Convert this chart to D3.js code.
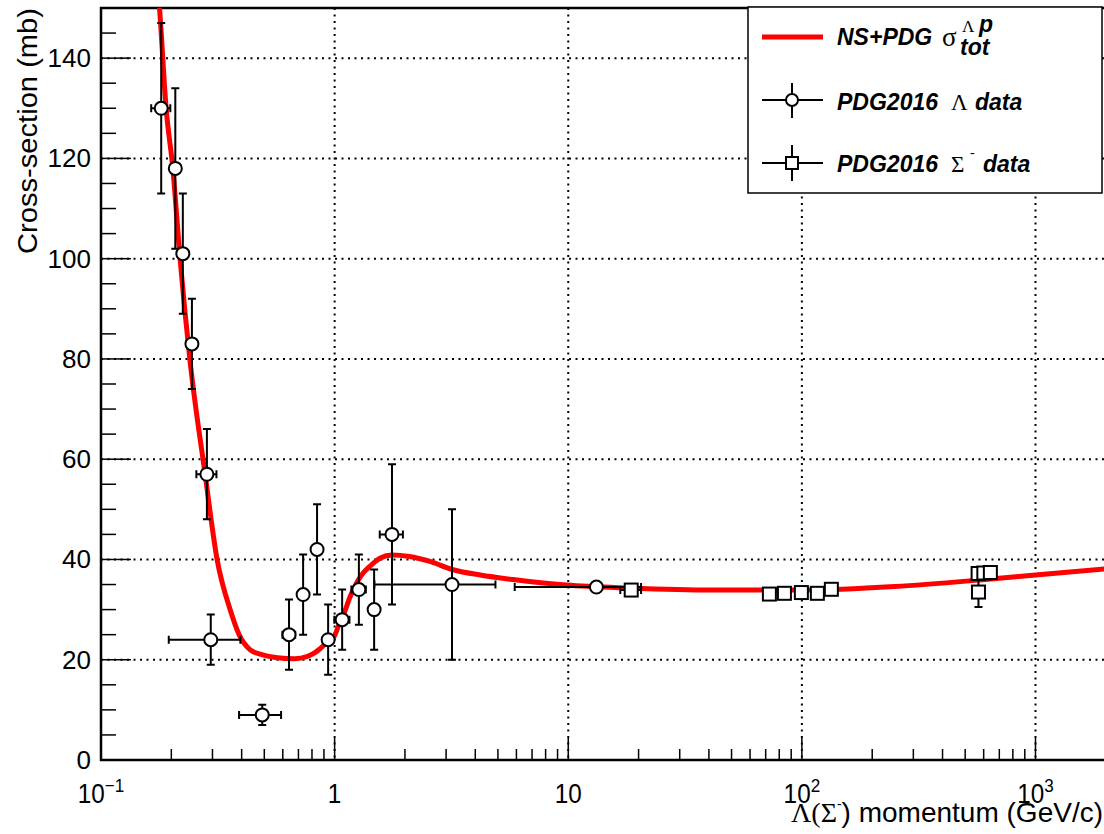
<!DOCTYPE html>
<html>
<head>
<meta charset="utf-8">
<script src="https://cdn.jsdelivr.net/npm/d3@7"></script>
<style>
  html, body { margin: 0; padding: 0; background: #fff; }
  svg { display: block; font-family: "Liberation Sans", Arial, sans-serif; }
  .grid { stroke: #000; stroke-width: 2; stroke-dasharray: 2,4.5; fill: none; }
  .frame { stroke: #000; stroke-width: 2.5; fill: none; }
  .tick { stroke: #000; stroke-width: 1.5; }
  .err { stroke: #000; stroke-width: 2; fill: none; }
  .marker { stroke: #000; stroke-width: 2; fill: #fff; }
  .leg { font-weight: bold; font-style: italic; font-size: 23px; }
  .greek { font-family: "Liberation Serif", "Times New Roman", serif; font-style: normal; font-weight: normal; }
</style>
</head>
<body>
<svg id="chart" width="1104" height="834"></svg>
<script>
// NS+PDG total cross-section curve
const curveP = [0.172, 0.178, 0.190, 0.203, 0.218, 0.240, 0.279, 0.314, 0.357, 0.390, 0.434, 0.48, 0.57, 0.676, 0.76, 0.81, 0.866, 0.938, 1.0, 1.034, 1.09, 1.166, 1.29, 1.42, 1.57, 1.76, 2.09, 2.56, 3.18, 4.2, 5.8, 9.8, 18.2, 42, 100, 250, 575, 1000, 2100];
const curveSigma = [158, 150, 130, 118, 100, 80, 57, 40, 30, 25, 22, 21.1, 20.4, 20.2, 20.6, 21.2, 22.2, 23.7, 24.8, 26.5, 28.9, 32.6, 36.6, 38.7, 40.3, 40.9, 40.6, 39.6, 38.0, 36.9, 36.0, 34.9, 34.3, 33.9, 33.9, 34.6, 35.9, 36.9, 38.2];

// PDG2016 Lambda p data
const lambdaP = [0.181, 0.208, 0.224, 0.245, 0.284, 0.295, 0.49, 0.638, 0.733, 0.841, 0.938, 1.077, 1.27, 1.476, 1.76, 3.18, 13.2];
const lambdaSigma = [130, 118, 101, 83, 57, 24, 9, 25, 33, 42, 24, 28, 34, 30, 45, 35, 34.5];
const lambdaErrP = [0.017, 0, 0, 0, 0.028, 0.1, 0.1, 0.04, 0, 0, 0, 0.08, 0.09, 0, 0.2, 1.7, 7.3];
const lambdaErrSigma = [17, 16, 12, 9, 9, 5, 2, 7, 8, 9, 7, 6, 7, 8, 14, 15, 0.5];

// PDG2016 Sigma- p data
const sigmaP = [18.6, 72.6, 84.2, 99.5, 116.5, 133.7, 570, 568, 601, 641];
const sigmaSigma = [33.9, 33.1, 33.25, 33.4, 33.25, 34.05, 33.5, 37.2, 37.3, 37.4];
const sigmaErrP = [1.9, 0, 0, 0, 0, 0, 0, 0, 0, 0];
const sigmaErrSigma = [0.5, 0.5, 0.5, 0.5, 0.5, 0.5, 3, 0.5, 0.5, 0.5];

// axis ticks
const yMajor = [0, 20, 40, 60, 80, 100, 120, 140];
const yMinor = d3.range(5, 151, 5).filter(v => v % 20 !== 0);
const xMajor = [0.1, 1, 10, 100, 1000];
const xMinor = [0.1, 1, 10, 100, 1000].flatMap(d => [2, 3, 4, 5, 6, 7, 8, 9].map(k => k * d));
const xLabels = [["10", "\u22121"], ["1", ""], ["10", ""], ["10", "2"], ["10", "3"]];

const W = 1104, H = 834;
const L = 101, T = 8, B = 760;

const svg = d3.select('#chart');
const x = d3.scaleLog().domain([0.1, 1000]).range([L, 1035.5]);
const y = d3.scaleLinear().domain([0, 150]).range([B, T]);

svg.append('defs').append('clipPath').attr('id', 'plotclip')
  .append('rect').attr('x', L).attr('y', T).attr('width', W - L).attr('height', B - T);

// grid
const grid = svg.append('g');
yMajor.slice(1).forEach(v => {
  grid.append('line').attr('class', 'grid')
    .attr('x1', L).attr('x2', W).attr('y1', y(v)).attr('y2', y(v));
});
xMajor.slice(1).forEach(v => {
  grid.append('line').attr('class', 'grid')
    .attr('x1', x(v)).attr('x2', x(v)).attr('y1', T).attr('y2', B);
});

// ticks
const ticks = svg.append('g');
yMajor.forEach(v => ticks.append('line').attr('class', 'tick')
  .attr('x1', L).attr('x2', L + 30).attr('y1', y(v)).attr('y2', y(v)));
yMinor.forEach(v => ticks.append('line').attr('class', 'tick')
  .attr('x1', L).attr('x2', L + 15).attr('y1', y(v)).attr('y2', y(v)));
xMajor.forEach(v => ticks.append('line').attr('class', 'tick')
  .attr('x1', x(v)).attr('x2', x(v)).attr('y1', B).attr('y2', B - 22));
xMinor.filter(v => x(v) < W).forEach(v => ticks.append('line').attr('class', 'tick')
  .attr('x1', x(v)).attr('x2', x(v)).attr('y1', B).attr('y2', B - 11));

// frame
svg.append('path').attr('class', 'frame')
  .attr('d', `M${W},${T}H${L}V${B}H${W}`);

// curve
const line = d3.line()
  .x(d => x(d[0])).y(d => y(d[1]))
  .curve(d3.curveMonotoneX);
svg.append('path')
  .datum(curveP.map((p, i) => [p, curveSigma[i]]))
  .attr('clip-path', 'url(#plotclip)')
  .attr('d', line)
  .attr('fill', 'none').attr('stroke', '#ff0000').attr('stroke-width', 5);

// error bars + markers
function drawSet(ps, vs, eps, evs, shape) {
  const g = svg.append('g').attr('clip-path', 'url(#plotclip)');
  const cap = 4;
  ps.forEach((p, i) => {
    const cx = x(p), cy = y(vs[i]);
    if (evs[i] > 0) {
      const y1 = y(vs[i] + evs[i]), y2 = y(vs[i] - evs[i]);
      g.append('path').attr('class', 'err')
        .attr('d', `M${cx},${y1}V${y2}M${cx - cap},${y1}H${cx + cap}M${cx - cap},${y2}H${cx + cap}`);
    }
    if (eps[i] > 0) {
      const x1 = x(p - eps[i]), x2 = x(p + eps[i]);
      g.append('path').attr('class', 'err')
        .attr('d', `M${x1},${cy}H${x2}M${x1},${cy - cap}V${cy + cap}M${x2},${cy - cap}V${cy + cap}`);
    }
  });
  ps.forEach((p, i) => {
    const cx = x(p), cy = y(vs[i]);
    if (shape === 'circle') {
      g.append('circle').attr('class', 'marker').attr('cx', cx).attr('cy', cy).attr('r', 6.5);
    } else {
      g.append('rect').attr('class', 'marker')
        .attr('x', cx - 6.5).attr('y', cy - 6.5).attr('width', 13).attr('height', 13);
    }
  });
}
drawSet(lambdaP, lambdaSigma, lambdaErrP, lambdaErrSigma, 'circle');
drawSet(sigmaP, sigmaSigma, sigmaErrP, sigmaErrSigma, 'square');

// y tick labels
yMajor.forEach(v => {
  svg.append('text')
    .attr('x', 91).attr('y', y(v) + 9)
    .attr('text-anchor', 'end').attr('font-size', 26)
    .text(v);
});

// x tick labels
xMajor.forEach((v, i) => {
  const t = svg.append('text')
    .attr('transform', `translate(${x(v)},803) scale(0.9,1)`)
    .attr('text-anchor', 'middle').attr('font-size', 27);
  t.append('tspan').text(xLabels[i][0]);
  if (xLabels[i][1]) t.append('tspan').attr('dy', -11).attr('font-size', 19).text(xLabels[i][1]);
});

// axis titles
svg.append('text')
  .attr('transform', 'translate(37,8) rotate(-90)')
  .attr('text-anchor', 'end').attr('font-size', 27)
  .attr('textLength', 246).attr('lengthAdjust', 'spacingAndGlyphs')
  .text('Cross-section (mb)');

const xt = svg.append('text')
  .attr('x', 1103).attr('y', 822)
  .attr('text-anchor', 'end').attr('font-size', 28);
xt.append('tspan').attr('class', 'greek').text('\u039B(\u03A3');
xt.append('tspan').attr('dy', -13).attr('font-size', 14).text('-');
xt.append('tspan').attr('dy', 13).text(') momentum (GeV/c)');

// legend
const lg = svg.append('g');
lg.append('rect').attr('x', 748).attr('y', 7).attr('width', 354).attr('height', 186)
  .attr('fill', '#fff').attr('stroke', '#000').attr('stroke-width', 1.5);

lg.append('line').attr('x1', 762).attr('x2', 823).attr('y1', 37).attr('y2', 37)
  .attr('stroke', '#ff0000').attr('stroke-width', 5);
lg.append('text').attr('class', 'leg').attr('x', 837).attr('y', 45).text('NS+PDG');
lg.append('text').attr('class', 'greek').attr('x', 942).attr('y', 46).attr('font-size', 27).text('\u03C3');
lg.append('text').attr('class', 'greek').attr('x', 962).attr('y', 32).attr('font-size', 17).text('\u039B');
lg.append('text').attr('class', 'leg').attr('x', 979).attr('y', 32).attr('font-size', 17).text('p');
lg.append('text').attr('class', 'leg').attr('x', 960).attr('y', 55).attr('font-size', 17).text('tot');

lg.append('path').attr('class', 'err').attr('d', 'M762,100H823M792,83V118');
lg.append('circle').attr('class', 'marker').attr('cx', 792).attr('cy', 100).attr('r', 6);
lg.append('text').attr('class', 'leg').attr('x', 837).attr('y', 110).text('PDG2016');
lg.append('text').attr('class', 'leg greek').attr('x', 951).attr('y', 110).attr('font-size', 24).text('\u039B');
lg.append('text').attr('class', 'leg').attr('x', 975).attr('y', 110).text('data');

lg.append('path').attr('class', 'err').attr('d', 'M762,163H823M792,145V181');
lg.append('rect').attr('class', 'marker').attr('x', 786).attr('y', 157).attr('width', 12).attr('height', 12);
lg.append('text').attr('class', 'leg').attr('x', 837).attr('y', 172).text('PDG2016');
lg.append('text').attr('class', 'leg greek').attr('x', 951).attr('y', 172).attr('font-size', 24).text('\u03A3');
lg.append('text').attr('class', 'greek').attr('x', 970).attr('y', 157).attr('font-size', 14).text('-');
lg.append('text').attr('class', 'leg').attr('x', 983).attr('y', 172).text('data');
</script>
</body>
</html>
